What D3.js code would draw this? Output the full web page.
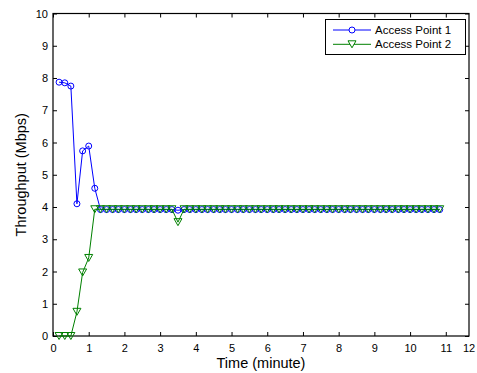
<!DOCTYPE html>
<html>
<head>
<meta charset="utf-8">
<script src="https://cdn.jsdelivr.net/npm/d3@7"></script>
<style>
  body { margin: 0; background: #fff; }
  svg text { font-family: "Liberation Sans", Arial, sans-serif; fill: #000; }
</style>
</head>
<body>
<svg width="477" height="373"></svg>
<script>
// time of each sample (minutes)
var times = [0.17, 0.33, 0.5, 0.67, 0.83, 1, 1.17, 1.33, 1.5, 1.67,
             1.83, 2, 2.17, 2.33, 2.5, 2.67, 2.83, 3, 3.17, 3.33,
             3.5, 3.67, 3.83, 4, 4.17, 4.33, 4.5, 4.67, 4.83, 5,
             5.17, 5.33, 5.5, 5.67, 5.83, 6, 6.17, 6.33, 6.5, 6.67,
             6.83, 7, 7.17, 7.33, 7.5, 7.67, 7.83, 8, 8.17, 8.33,
             8.5, 8.67, 8.83, 9, 9.17, 9.33, 9.5, 9.67, 9.83, 10,
             10.17, 10.33, 10.5, 10.67, 10.83];

// throughput (Mbps)
var ap1 = [7.87, 7.85, 7.75, 4.1, 5.74, 5.89, 4.58, 3.92, 3.92, 3.92,
           3.92, 3.92, 3.92, 3.92, 3.92, 3.92, 3.92, 3.92, 3.92, 3.92,
           3.9, 3.92, 3.92, 3.92, 3.92, 3.92, 3.92, 3.92, 3.92, 3.92,
           3.92, 3.92, 3.92, 3.92, 3.92, 3.92, 3.92, 3.92, 3.92, 3.92,
           3.92, 3.92, 3.92, 3.92, 3.92, 3.92, 3.92, 3.92, 3.92, 3.92,
           3.92, 3.92, 3.92, 3.92, 3.92, 3.92, 3.92, 3.92, 3.92, 3.92,
           3.92, 3.92, 3.92, 3.92, 3.92];
var ap2 = [0, 0, 0, 0.75, 1.97, 2.42, 3.93, 3.93, 3.93, 3.93,
           3.93, 3.93, 3.93, 3.93, 3.93, 3.93, 3.93, 3.93, 3.93, 3.93,
           3.53, 3.93, 3.93, 3.93, 3.93, 3.93, 3.93, 3.93, 3.93, 3.93,
           3.93, 3.93, 3.93, 3.93, 3.93, 3.93, 3.93, 3.93, 3.93, 3.93,
           3.93, 3.93, 3.93, 3.93, 3.93, 3.93, 3.93, 3.93, 3.93, 3.93,
           3.93, 3.93, 3.93, 3.93, 3.93, 3.93, 3.93, 3.93, 3.93, 3.93,
           3.93, 3.93, 3.93, 3.93, 3.93];

var seriesNames = ["Access Point 1", "Access Point 2"];
var xTicks = [0, 1, 2, 3, 4, 5, 6, 7, 8, 9, 10, 11];
var xEdgeLabel = "12";
var yTicks = [0, 1, 2, 3, 4, 5, 6, 7, 8, 9, 10];

// plot box edges
var boxL = 53, boxR = 469, boxT = 13.5, boxB = 336;

var x = d3.scaleLinear().domain([0, 11.65]).range([boxL, boxR]);
var y = d3.scaleLinear().domain([0, 10]).range([boxB, boxT]);

var svg = d3.select("svg");

// axes, ticks pointing inward
svg.append("g")
    .attr("transform", `translate(0,${boxB})`)
    .call(d3.axisBottom(x).tickValues(xTicks).tickFormat(d3.format("d"))
          .tickSizeInner(-4).tickSizeOuter(0).tickPadding(8));
svg.append("g")
    .attr("transform", `translate(0,${boxT})`)
    .call(d3.axisTop(x).tickValues(xTicks).tickFormat("")
          .tickSizeInner(-4).tickSizeOuter(0));
svg.append("g")
    .attr("transform", `translate(${boxL},0)`)
    .call(d3.axisLeft(y).tickValues(yTicks).tickFormat(d3.format("d"))
          .tickSizeInner(-4).tickSizeOuter(0).tickPadding(5));
svg.append("g")
    .attr("transform", `translate(${boxR},0)`)
    .call(d3.axisRight(y).tickValues(yTicks).tickFormat("")
          .tickSizeInner(-4).tickSizeOuter(0));

svg.selectAll(".domain").remove();
svg.selectAll(".tick line").attr("stroke", "#000");
svg.selectAll(".tick text").attr("font-size", 11).attr("font-family", null);

// "12" label sits at the right edge of the box
svg.append("text")
    .attr("x", x(x.domain()[1]))
    .attr("y", boxB + 8)
    .attr("dy", "0.71em")
    .attr("text-anchor", "middle")
    .attr("font-size", 11)
    .text(xEdgeLabel);

// box
svg.append("rect")
    .attr("x", boxL).attr("y", boxT)
    .attr("width", boxR - boxL).attr("height", boxB - boxT)
    .attr("fill", "none").attr("stroke", "#000").attr("stroke-width", 1.2);

var colors = ["#0000ff", "#008000"];
var tri = "M-4,-3.5L4,-3.5L0,3.5Z";

function drawSeries(vals, color, marker) {
    var pts = times.map((t, i) => [t, vals[i]]);
    svg.append("path")
        .datum(pts)
        .attr("fill", "none")
        .attr("stroke", color)
        .attr("stroke-width", 1)
        .attr("d", d3.line().x(d => x(d[0])).y(d => y(d[1])));
    var g = svg.append("g");
    if (marker === "circle") {
        g.selectAll("circle").data(pts).enter().append("circle")
            .attr("cx", d => x(d[0])).attr("cy", d => y(d[1])).attr("r", 3)
            .attr("fill", "none").attr("stroke", color).attr("stroke-width", 1);
    } else {
        g.selectAll("path").data(pts).enter().append("path")
            .attr("transform", d => `translate(${x(d[0])},${y(d[1])})`)
            .attr("d", tri)
            .attr("fill", "none").attr("stroke", color).attr("stroke-width", 1);
    }
}

drawSeries(ap1, colors[0], "circle");
drawSeries(ap2, colors[1], "triangle");

// axis titles
svg.append("text")
    .attr("x", (boxL + boxR) / 2).attr("y", 367.5)
    .attr("text-anchor", "middle").attr("font-size", 14.5)
    .text("Time (minute)");
svg.append("text")
    .attr("transform", `translate(26,${(boxT + boxB) / 2}) rotate(-90)`)
    .attr("text-anchor", "middle").attr("font-size", 14.5)
    .text("Throughput (Mbps)");

// legend
var lg = svg.append("g");
lg.append("rect")
    .attr("x", 325.5).attr("y", 19.5).attr("width", 140).attr("height", 35)
    .attr("fill", "#fff").attr("stroke", "#000").attr("stroke-width", 1);
seriesNames.forEach(function(name, i) {
    var ly = 30 + i * 14.3;
    lg.append("line")
        .attr("x1", 333).attr("x2", 371).attr("y1", ly).attr("y2", ly)
        .attr("stroke", colors[i]).attr("stroke-width", 1);
    if (i === 0) {
        lg.append("circle").attr("cx", 352).attr("cy", ly).attr("r", 3)
            .attr("fill", "#fff").attr("stroke", colors[i]);
    } else {
        lg.append("path").attr("transform", `translate(352,${ly})`).attr("d", tri)
            .attr("fill", "#fff").attr("stroke", colors[i]);
    }
    lg.append("text")
        .attr("x", 375).attr("y", ly).attr("dy", "0.35em")
        .attr("font-size", 11.5)
        .text(name);
});
</script>
</body>
</html>
